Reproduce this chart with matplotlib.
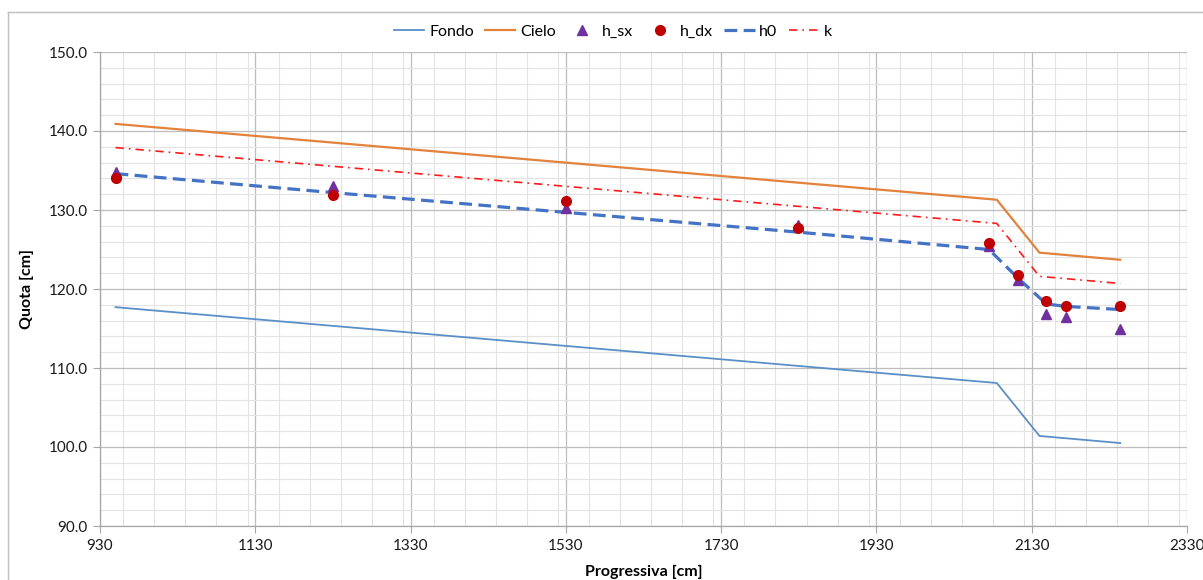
import matplotlib
matplotlib.use("Agg")
import matplotlib.pyplot as plt
from matplotlib.ticker import MultipleLocator, FormatStrFormatter
from matplotlib.lines import Line2D

plt.rcParams['font.family'] = ['Lato', 'DejaVu Sans']

# ---- data ----
x_profile = [950, 2085, 2140, 2244]
fondo = [117.7, 108.1, 101.4, 100.5]
cielo = [140.9, 131.3, 124.6, 123.7]
k_line = [137.9, 128.3, 121.6, 120.7]

x_meas = [950, 1230, 1530, 1829, 2075, 2112, 2149, 2174, 2244]
h_sx = [134.8, 133.0, 130.3, 128.1, 125.5, 121.2, 116.8, 116.5, 115.0]
h_dx = [134.0, 131.9, 131.2, 127.7, 125.8, 121.8, 118.5, 117.8, 117.9]
h0 = [134.6, 132.2, 129.7, 127.2, 125.0, 121.4, 118.1, 117.8, 117.4]

x_ticks = [930, 1130, 1330, 1530, 1730, 1930, 2130, 2330]

W, H = 1203, 580
fig = plt.figure(figsize=(W / 100, H / 100), dpi=100)
ax = fig.add_axes([100 / W, 1 - 526 / H, (1187 - 100) / W, (526 - 52) / H])

# outer chart border (left and top visible)
fig.add_artist(Line2D([8 / W, 8 / W], [0, 1 - 12 / H], transform=fig.transFigure,
                      color='#BFBFBF', lw=1.0))
fig.add_artist(Line2D([8 / W, 1], [1 - 12 / H, 1 - 12 / H], transform=fig.transFigure,
                      color='#BFBFBF', lw=1.0))

ax.plot(x_profile, fondo, color='#5B8FC7', lw=1.3, label='Fondo', zorder=3)
ax.plot(x_profile, cielo, color='#E2823C', lw=1.6, label='Cielo', zorder=3)
ax.plot(x_meas, h_sx, linestyle='none', marker='^', color='#7030A0', ms=6.5,
        label='h_sx', zorder=5)
ax.plot(x_meas, h_dx, linestyle='none', marker='o', color='#C00000', ms=7,
        label='h_dx', zorder=6)
ax.plot(x_meas, h0, color='#4472C4', lw=2.3, linestyle=(0, (4, 2)), label='h0', zorder=4)
ax.plot(x_profile, k_line, color='#FF1A1A', lw=1.2, linestyle=(0, (5, 3, 1, 3)),
        label='k', zorder=4)

ax.set_xlim(930, 2330)
ax.set_ylim(90, 150)
ax.set_xticks(x_ticks)
ax.xaxis.set_minor_locator(MultipleLocator(40))
ax.yaxis.set_major_locator(MultipleLocator(10))
ax.yaxis.set_minor_locator(MultipleLocator(2))
ax.yaxis.set_major_formatter(FormatStrFormatter('%.1f'))

ax.grid(which='major', color='#BDBDBD', lw=0.9)
ax.grid(which='minor', color='#E3E3E3', lw=0.8)
ax.set_axisbelow(True)

for s in ['top', 'right']:
    ax.spines[s].set_visible(False)
for s in ['left', 'bottom']:
    ax.spines[s].set_color('#A6A6A6')
    ax.spines[s].set_linewidth(0.9)

ax.tick_params(axis='both', which='major', length=5, color='#A6A6A6',
               labelsize=11, labelcolor='#1a1a1a', pad=4)
ax.tick_params(axis='both', which='minor', length=0)

ax.set_xlabel('Progressiva [cm]', fontsize=11.5, fontweight='bold', labelpad=9)
ax.set_ylabel('Quota [cm]', fontsize=11.5, fontweight='bold', labelpad=10)

fig.legend(loc='center', bbox_to_anchor=(613 / W, 1 - 32 / H), ncol=6,
           frameon=False, fontsize=11.5, handlelength=1.9, columnspacing=0.7,
           handletextpad=0.3)

fig.savefig('out.png', dpi=100)
